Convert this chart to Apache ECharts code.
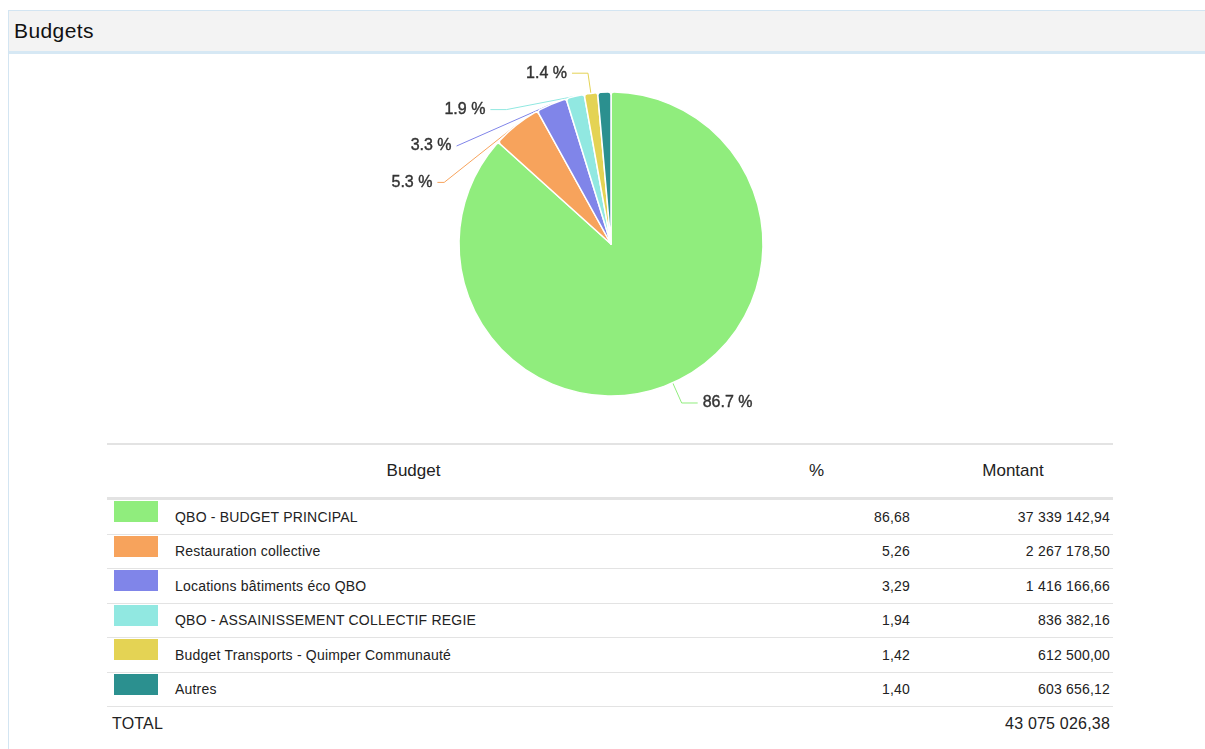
<!DOCTYPE html>
<html>
<head>
<meta charset="utf-8">
<script src="https://cdn.jsdelivr.net/npm/echarts@6/dist/echarts.min.js"></script>
<style>
  body{margin:0;background:#fff;font-family:"Liberation Sans",Arial,sans-serif;color:#222;}
  #panel{position:absolute;left:8px;top:10px;width:1197px;height:739px;border-left:1px solid #d3e5f2;border-top:1px solid #d3e5f2;}
  #head{height:40px;background:#f3f3f3;border-bottom:3px solid #d6e8f4;}
  #head span{position:absolute;left:5px;top:8px;font-size:21px;letter-spacing:0.4px;color:#111;}
  #chart{position:absolute;left:0;top:55px;width:1205px;height:385px;}
  #tbl{position:absolute;left:107px;top:443px;width:1006px;border-collapse:collapse;font-size:14px;}
  #tbl th{font-weight:normal;font-size:17px;height:52px;border-top:2px solid #e3e3e3;border-bottom:3px solid #e3e3e3;padding:0;}
  #tbl td{height:33.5px;border-bottom:1px solid #e3e3e3;padding:0;letter-spacing:0.2px;}
  #tbl td.sw{width:68px;vertical-align:top;}
  #tbl td.sw div{width:44px;height:21px;margin:1px 0 0 7px;}
  #tbl td.num{text-align:right;padding-right:3px;}
  #tbl tr.tot td{border-bottom:none;height:34px;font-size:16px;}
</style>
</head>
<body>
<div id="panel"><div id="head"><span>Budgets</span></div></div>
<div id="chart"></div>
<table id="tbl"></table>
<script>
// budgets (lignes du tableau)
var names = ['QBO - BUDGET PRINCIPAL','Restauration collective','Locations bâtiments éco QBO','QBO - ASSAINISSEMENT COLLECTIF REGIE','Budget Transports - Quimper Communauté','Autres'];
var montants = [37339142.94, 2267178.50, 1416166.66, 836382.16, 612500.00, 603656.12];
var pourcents = [86.68, 5.26, 3.29, 1.94, 1.42, 1.40];
var total = 43075026.38;
var colors = ['#90ed7d','#f7a35c','#8085e9','#91e8e1','#e4d354','#2b908f'];

function fmtNum(v){
    var p = v.toFixed(2).split('.');
    return p[0].replace(/\B(?=(\d{3})+(?!\d))/g,' ')+','+p[1];
}

//tableau
var html = '<tr><th colspan="2" style="width:613px">Budget</th><th style="width:193px">%</th><th style="width:200px">Montant</th></tr>';
for (var i = 0; i < names.length; i++) {
    html += '<tr><td class="sw"><div style="background:'+colors[i]+'"></div></td><td>'+names[i]+'</td>'
        + '<td class="num">'+pourcents[i].toFixed(2).replace('.',',')+'</td>'
        + '<td class="num">'+fmtNum(montants[i])+'</td></tr>';
}
html += '<tr class="tot"><td colspan="2" style="padding-left:5px">TOTAL</td><td></td><td class="num">'+fmtNum(total)+'</td></tr>';
document.getElementById('tbl').innerHTML = html;

//camembert
var myChart = echarts.init(document.getElementById('chart'));
var data = [];
for (var i = 0; i < names.length; i++) {
    var item = {name: names[i], value: montants[i]};
    if (i == names.length - 1) item.label = {show: false};
    data.push(item);
}
var option = {
    animation: false,
    color: colors,
    series: [{
        type: 'pie',
        center: [611, 189],
        radius: 152,
        startAngle: 90,
        clockwise: true,
        percentPrecision: 1,
        data: data,
        itemStyle: {
            borderColor: '#fff',
            borderWidth: 1.5,
            borderRadius: 3
        },
        label: {
            formatter: '{d} %',
            fontSize: 16,
            color: '#333',
            textBorderColor: '#333',
            textBorderWidth: 0.4,
            fontFamily: 'Liberation Sans',
            minMargin: 20
        },
        labelLine: {
            length: 22,
            length2: 16,
            lineStyle: {width: 1}
        }
    }]
};
myChart.setOption(option);
</script>
</body>
</html>
